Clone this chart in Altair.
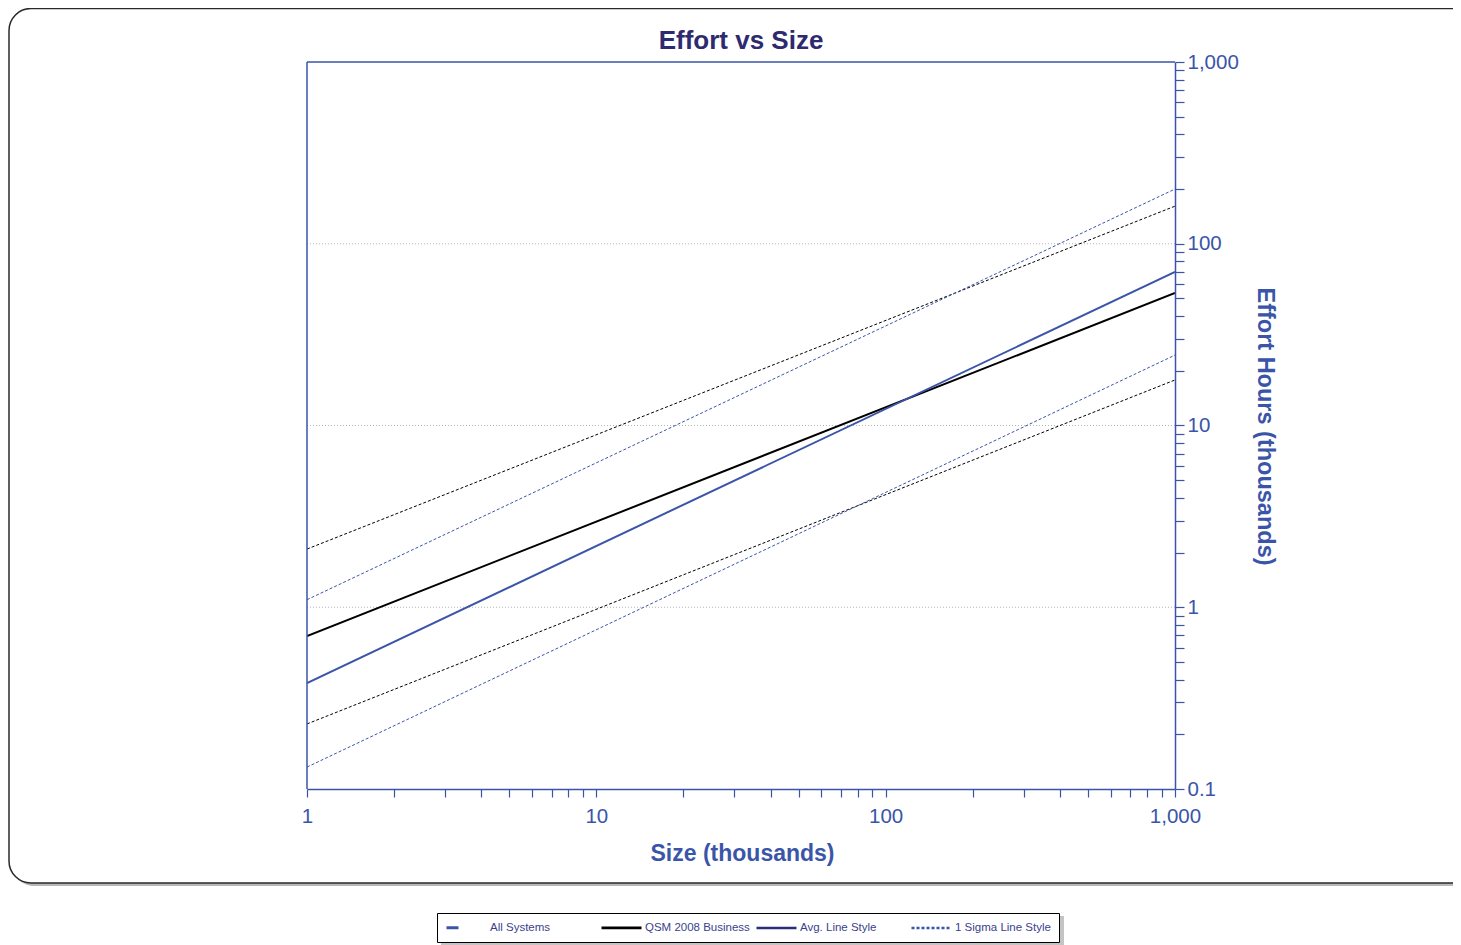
import altair as alt
import pandas as pd

# ---------------- data ----------------
x_ends = [1, 1000]
qsm_avg = [0.695, 53.6]
qsm_hi = [2.09, 161.0]
qsm_lo = [0.228, 17.8]
all_avg = [0.383, 70.0]
all_hi = [1.10, 200.0]
all_lo = [0.132, 24.4]

grid_values = [1, 10, 100]
x_major = [1, 10, 100, 1000]
y_major = [0.1, 1, 10, 100, 1000]
minor_mult = [1, 2, 3, 4, 5, 6, 7, 8, 9]

legend_items = ["All Systems", "QSM 2008 Business", "Avg. Line Style", "1 Sigma Line Style"]
chart_title = "Effort vs Size"

BLUE = "#3a55a8"
NAVY = "#2b2d7c"
TITLE_NAVY = "#2d2a70"
LABEL_FONT = "Liberation Sans, Arial, sans-serif"
BOLD = "Liberation Sans, Arial, sans-serif"

series = [
    ("QSM avg", qsm_avg, "#000000", "solid"),
    ("All avg", all_avg, BLUE, "solid"),
    ("QSM hi", qsm_hi, "#000000", "dash"),
    ("QSM lo", qsm_lo, "#000000", "dash"),
    ("All hi", all_hi, BLUE, "dash"),
    ("All lo", all_lo, BLUE, "dash"),
]
rows = []
for name, ys, col, style in series:
    for xv, yv in zip(x_ends, ys):
        rows.append({"line": name, "x": xv, "y": yv, "col": col, "style": style})
df = pd.DataFrame(rows)
solid_df = df[df["style"] == "solid"]
dash_df = df[df["style"] == "dash"]

grid_df = pd.DataFrame({"y": grid_values})
top_df = pd.DataFrame({"y": [y_major[-1]]})
left_df = pd.DataFrame({"x": [x_major[0]]})
legend_df = pd.DataFrame({"x": [1e6] * 4, "y": [1e6] * 4, "legend": legend_items})
one = pd.DataFrame({"t": [chart_title]})

x_ticks = [d * m for d in x_major[:-1] for m in minor_mult] + [x_major[-1]]
y_ticks = [round(d * m, 6) for d in y_major[:-1] for m in minor_mult] + [y_major[-1]]

# ---------------- scales / axes ----------------
xs = alt.Scale(type="log", domain=[1, 1000], nice=False)
ys_ = alt.Scale(type="log", domain=[0.1, 1000], nice=False)

x_axis = alt.Axis(
    values=x_ticks, format=",", zindex=2,
    labelExpr="indexof([1,10,100,1000], datum.value) >= 0 ? datum.label : ''",
    labelFont=LABEL_FONT, labelFontSize=20.5, labelColor=BLUE, labelPadding=9,
    labelFlush=False, labelOverlap=False,
    tickSize=8, tickColor=BLUE, tickWidth=1.2,
    domainColor=BLUE, domainWidth=1.5, grid=False,
    titleFont=BOLD, titleFontSize=23, titleFontWeight="bold", titleColor=BLUE,
    titleX=435, titleY=71, titleBaseline="alphabetic", titleAlign="center",
)
y_axis = alt.Axis(
    orient="right", values=y_ticks, format=",", zindex=2,
    labelExpr="indexof([0.1,1,10,100,1000], datum.value) >= 0 ? datum.label : ''",
    labelFont=LABEL_FONT, labelFontSize=20.5, labelColor=BLUE, labelPadding=3,
    labelAlign="left", labelBaseline="middle",
    labelFlush=False, labelOverlap=False,
    tickSize=9, tickColor=BLUE, tickWidth=1.2,
    domainColor=BLUE, domainWidth=1.5, grid=False,
    titleFont=BOLD, titleFontSize=23.5, titleFontWeight="bold", titleColor=BLUE,
    titleAngle=90, titleX=89, titleY=364, titleBaseline="middle", titleAlign="center",
)

X = alt.X("x:Q", scale=xs, axis=x_axis, title="Size (thousands)")
Y = alt.Y("y:Q", scale=ys_, axis=y_axis, title="Effort Hours (thousands)")

# ---------------- layers ----------------
shadow = alt.Chart(one).mark_rect(fill="#b8b8b8", cornerRadius=22).encode(
    x=alt.value(-295), x2=alt.value(1200), y=alt.value(-51), y2=alt.value(824)
)
box = alt.Chart(one).mark_rect(fill="white", stroke="#2a2a2a", strokeWidth=1.5, cornerRadius=22).encode(
    x=alt.value(-298), x2=alt.value(1197), y=alt.value(-53.5), y2=alt.value(821)
)
legend_shadow = alt.Chart(one).mark_rect(fill="#c4c4c4").encode(
    x=alt.value(134), x2=alt.value(757), y=alt.value(854), y2=alt.value(884)
)
title = alt.Chart(one).mark_text(
    font=BOLD, fontSize=26, fontWeight="bold", color=TITLE_NAVY,
    align="center", baseline="alphabetic",
).encode(x=alt.value(434), y=alt.value(-13), text="t:N")

grid = alt.Chart(grid_df).mark_rule(color="#b4b4b4", strokeDash=[1, 2], strokeWidth=1).encode(y=Y)
top_border = alt.Chart(top_df).mark_rule(color=BLUE, strokeWidth=1.5).encode(y=Y)
left_border = alt.Chart(left_df).mark_rule(color=BLUE, strokeWidth=1.5).encode(x=X)

dashed = alt.Chart(dash_df).mark_line(strokeWidth=1, strokeDash=[3, 2], clip=True).encode(
    x=X, y=Y, detail="line:N", color=alt.Color("col:N", scale=None)
)
solid = alt.Chart(solid_df).mark_line(strokeWidth=2, clip=True).encode(
    x=X, y=Y, detail="line:N", color=alt.Color("col:N", scale=None)
)

leg = alt.Legend(
    title=None, orient="none", legendX=130, legendY=851, direction="horizontal",
    columns=4, gridAlign="all", columnPadding=0, padding=8,
    strokeColor="#000000", fillColor="white",
    symbolSize=100, symbolOffset=15, labelOffset=17,
    labelFont=LABEL_FONT, labelFontSize=11.5, labelColor="#3b3f8c",
)
legend_layer = alt.Chart(legend_df).mark_point(filled=False, size=100, opacity=1, clip=True).encode(
    x=X, y=Y,
    color=alt.Color("legend:N", sort=legend_items, legend=leg,
                    scale=alt.Scale(domain=legend_items, range=[BLUE, "#000000", NAVY, BLUE])),
    shape=alt.Shape("legend:N", sort=legend_items, legend=leg,
                    scale=alt.Scale(domain=legend_items,
                                    range=["M-4,0L-1.6,0", "M-4,0L4,0", "M-4,0L4,0", "M-4,0L4,0"])),
    strokeDash=alt.StrokeDash("legend:N", sort=legend_items, legend=leg,
                              scale=alt.Scale(domain=legend_items,
                                              range=[[1, 0], [1, 0], [1, 0], [3, 2]])),
    strokeWidth=alt.StrokeWidth("legend:N", sort=legend_items, legend=leg,
                                scale=alt.Scale(domain=legend_items, range=[3, 2.5, 2.5, 1.2])),
)

chart = alt.layer(
    shadow, box, legend_shadow, title, grid, dashed, solid, top_border, left_border, legend_layer
).properties(
    width=868, height=727,
    autosize=alt.AutoSizeParams(type="none"),
    padding={"left": 299, "top": 54, "right": 278, "bottom": 156},
).configure_view(stroke=None).configure(background="white")

chart.save("out.html", embed_options={"renderer": "svg", "actions": False})
